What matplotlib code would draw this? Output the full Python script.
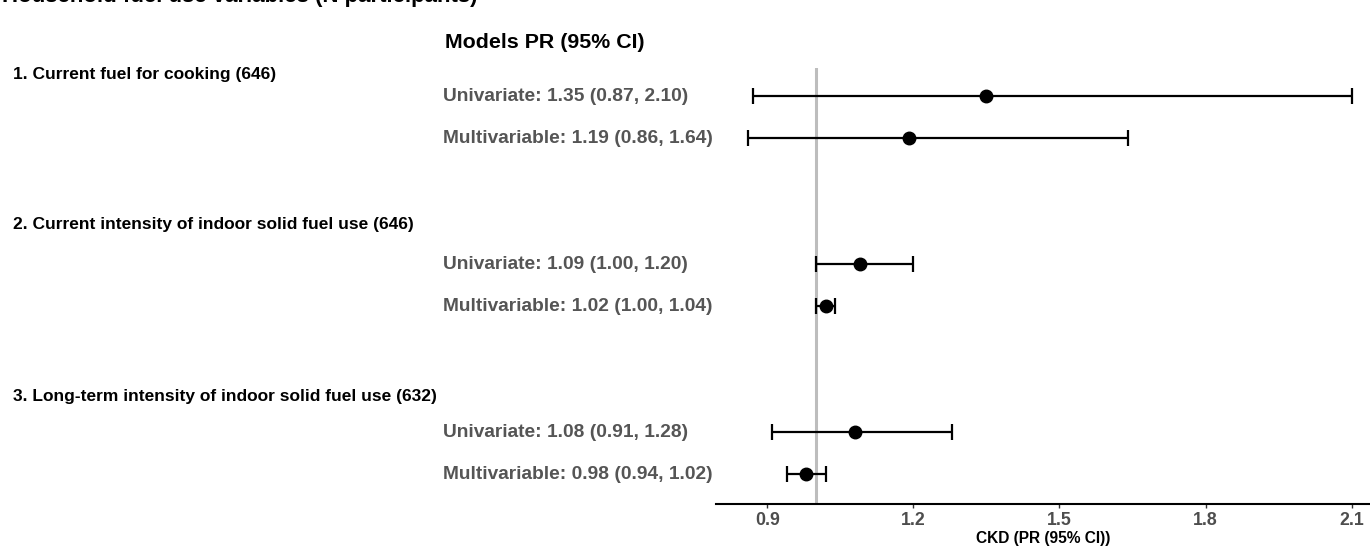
import matplotlib.pyplot as plt
import matplotlib.transforms as mtransforms
import numpy as np

plt.rcParams['font.family'] = ['Liberation Sans', 'DejaVu Sans']
plt.rcParams['font.weight'] = 'bold'

# Data
groups = ['1. Current fuel for cooking (646)',
          '2. Current intensity of indoor solid fuel use (646)',
          '3. Long-term intensity of indoor solid fuel use (632)']
models = ['Univariate', 'Multivariable',
          'Univariate', 'Multivariable',
          'Univariate', 'Multivariable']
pr = np.array([1.35, 1.19, 1.09, 1.02, 1.08, 0.98])
lower = np.array([0.87, 0.86, 1.00, 1.00, 0.91, 0.94])
upper = np.array([2.10, 1.64, 1.20, 1.04, 1.28, 1.02])
xticks = [0.9, 1.2, 1.5, 1.8, 2.1]

# rows: two model rows per group, a gap between groups
rows = np.array([0, 1, 4, 5, 8, 9])
header_rows = [-0.51, 3.07, 7.16]

W, H = 1370, 549
fig = plt.figure(figsize=(W / 100, H / 100), dpi=100)
ax = fig.add_axes([716 / W, 45 / H, 654 / W, 436 / H])

ax.axvline(1.0, color='#bdbdbd', lw=2.2, zorder=0)
ax.errorbar(pr, rows, xerr=[pr - lower, upper - pr], fmt='o', color='black',
            ms=9, elinewidth=1.6, capsize=6, capthick=1.6, zorder=3)

ax.set_xlim(0.7947, 2.1376)
ax.set_ylim(9.714, -0.667)
ax.set_xticks(xticks)
ax.set_xticklabels([f'{t:.1f}' for t in xticks])
ax.set_yticks([])
for s in ['top', 'right', 'left']:
    ax.spines[s].set_visible(False)
ax.spines['bottom'].set_linewidth(1.5)
ax.tick_params(axis='x', length=3, width=1, color='#333333', pad=3,
               labelsize=12.8, labelcolor='#4d4d4d')
ax.set_xlabel('CKD (PR (95% CI))', fontsize=11.2, fontweight='bold', labelpad=1)

# text column on the left
trans = mtransforms.blended_transform_factory(fig.transFigure, ax.transData)
for m, p, lo, hi, r in zip(models, pr, lower, upper, rows):
    ax.text(443 / W, r, f'{m}: {p:.2f} ({lo:.2f}, {hi:.2f})', transform=trans,
            ha='left', va='center', fontsize=13.8, fontweight='bold',
            color='#555555', clip_on=False)
for g, r in zip(groups, header_rows):
    ax.text(13 / W, r, g, transform=trans, ha='left', va='center',
            fontsize=12.5, fontweight='bold', color='black', clip_on=False)

fig.text(445 / W, 1 - 42 / H, 'Models PR (95% CI)', ha='left', va='center',
         fontsize=15.4, fontweight='bold')
# the panel title is cut at the top edge in the original figure
fig.text(2 / W, 1 - 2 / H, 'Household fuel use variables (N participants)',
         ha='left', va='baseline', fontsize=16, fontweight='bold')

fig.savefig('out.png', dpi=100)
